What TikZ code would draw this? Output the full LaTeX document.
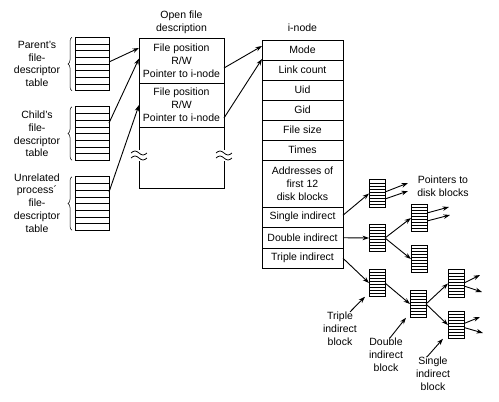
\documentclass[tikz,border=0pt]{standalone}
\usepackage{fontspec}
\setmainfont{Liberation Sans}
\usetikzlibrary{arrows.meta,positioning,calc}
\usetikzlibrary{decorations.pathreplacing}
\tikzset{rows/.style={path picture={%
  \foreach \k in {1,...,#1}
    \draw[line width=0.6pt] ($(path picture bounding box.north west)!\k/#1!(path picture bounding box.south west)$)
      -- ($(path picture bounding box.north east)!\k/#1!(path picture bounding box.south east)$);}}}
\newcommand\cutmark[1]{%
  \draw[line width=0.8pt] ([shift={(-8,-2.5)}]#1) sin ++(4,-2) cos ++(4,2) sin ++(4,2) cos ++(4,-2);
  \draw[line width=0.8pt] ([shift={(-8,2.5)}]#1) sin ++(4,-2) cos ++(4,2) sin ++(4,2) cos ++(4,-2);}

\begin{document}
\begin{tikzpicture}[x=1pt,y=-1pt,line width=0.9pt,>={Stealth[length=6.5pt,width=4.5pt]},
    font=\fontsize{10.5}{12.8}\selectfont]
    \tikzstyle{txt}=[align=center, inner sep=0pt]
    \tikzstyle{field}=[draw, align=center, minimum width=81pt, minimum height=20pt, inner sep=0pt, outer sep=0pt]
    \tikzstyle{ofd}=[draw, align=center, minimum width=85pt, inner sep=0pt, outer sep=0pt]
    \tikzstyle{fdtab}=[draw, minimum width=34pt, minimum height=53.5pt, inner sep=0pt, outer sep=0pt, rows=8]
    \tikzstyle{blk}=[draw, minimum width=16pt, minimum height=27.5pt, inner sep=0pt, outer sep=0pt, rows=9]
    \tikzstyle{ptr}=[->]
    \tikzstyle{brc}=[decorate, decoration={brace, amplitude=4pt}, line width=0.5pt]
    \useasboundingbox (0,0) rectangle (499,402);

    % file-descriptor tables
    \node[txt] (plab) at (37,64)  {Parent's\\file-\\descriptor\\table};
    \node[txt] (clab) at (37,134) {Child's\\file-\\descriptor\\table};
    \node[txt] (ulab) at (37,203) {Unrelated\\process´\\file-\\descriptor\\table};
    \node[fdtab] (ptab) at (92,64)    {};
    \node[fdtab] (ctab) at (92,133.5) {};
    \node[fdtab] (utab) at (92,203.5) {};
    \foreach \t in {ptab,ctab,utab}
      \draw[brc] ([xshift=-3pt]\t.south west) -- ([xshift=-3pt]\t.north west);

    % open file description
    \node[txt] (ofdlab) at (181.5,22) {Open file\\description};
    \node[ofd, minimum height=45pt] (ofd1) at (181.5,60.5) {File position\\R/W\\Pointer to i-node};
    \node[ofd, minimum height=44pt] (ofd2) at (181.5,105)  {File position\\R/W\\Pointer to i-node};
    \node[ofd, draw=none, minimum height=61pt] (ofd3) at (181.5,157.5) {};
    \coordinate (cutL) at ([yshift=2pt]ofd3.west);
    \coordinate (cutR) at ([yshift=2pt]ofd3.east);
    \draw (ofd3.north west) -- ([yshift=5.5pt]cutL) ([yshift=-5.5pt]cutL) -- (ofd3.south west)
      -- (ofd3.south east) -- ([yshift=-5.5pt]cutR) ([yshift=5.5pt]cutR) -- (ofd3.north east);
    \cutmark{cutL}
    \cutmark{cutR}

    % i-node
    \node[txt] (inlab) at (302.5,28) {i-node};
    \node[field] (mode) at (302.5,50) {Mode};
    \node[field, below=0pt of mode]  (link)  {Link count};
    \node[field, below=0pt of link]  (uid)   {Uid};
    \node[field, below=0pt of uid]   (gid)   {Gid};
    \node[field, below=0pt of gid]   (fsize) {File size};
    \node[field, below=0pt of fsize] (times) {Times};
    \node[field, below=0pt of times, minimum height=47pt] (addr) {Addresses of\\first 12\\disk blocks};
    \node[field, below=0pt of addr, minimum height=20.5pt] (sgl) {Single indirect};
    \node[field, below=0pt of sgl, minimum height=20.5pt]  (dbl) {Double indirect};
    \node[field, below=0pt of dbl, minimum height=20.5pt]  (tpl) {Triple indirect};

    % indirect blocks
    \node[blk] (s1)  at (377,193.5) {};
    \node[blk] (d1)  at (377,238)   {};
    \node[blk] (d1a) at (419,218)   {};
    \node[blk] (d1b) at (419,259)   {};
    \node[blk] (t1)  at (377,283)   {};
    \node[blk] (t1d) at (418,304)   {};
    \node[blk] (t1a) at (456,283.5) {};
    \node[blk] (t1b) at (456,325)   {};
    \node[txt] (ptrlab) at (443,186) {Pointers to\\disk blocks};
    \node[txt] (tlab) at (340,329) {Triple\\indirect\\block};
    \node[txt] (dlab) at (386,355) {Double\\indirect\\block};
    \node[txt] (slab) at (433,374) {Single\\indirect\\block};
    \coordinate (s1o1) at (408,183);
    \coordinate (s1o2) at (408,191);
    \coordinate (d1o1) at (449,207);
    \coordinate (d1o2) at (450,215);
    \coordinate (t1o1) at (480,275);
    \coordinate (t1o2) at (482,292);
    \coordinate (t1o3) at (480,317);
    \coordinate (t1o4) at (483,333);

    \path[ptr]
     ([yshift=2pt]ptab.east)    edge ([yshift=12.5pt]ofd1.west)
     ([yshift=10.5pt]ctab.east) edge ([yshift=2pt]ofd1.west)
     ([yshift=11.5pt]utab.east) edge (ofd2.west)
     ([yshift=-7.5pt]ofd1.east) edge ([yshift=4pt]mode.west)
     ([yshift=-13pt]ofd2.east)  edge ([yshift=1pt]mode.south west)
     ([yshift=2pt]sgl.east) edge (s1.west)
     (dbl.east) edge (d1.west)
     (tpl.east) edge (t1.west)
     ([yshift=1.5pt]s1.east)  edge (s1o1)
     ([yshift=-5.5pt]s1.east) edge (s1o2)
     (d1.east) edge (d1a.west)
     (d1.east) edge (d1b.west)
     ([yshift=5pt]d1a.east)  edge (d1o1)
     ([yshift=-3pt]d1a.east) edge (d1o2)
     (t1.east)  edge (t1d.west)
     (t1d.east) edge (t1a.west)
     (t1d.east) edge (t1b.west)
     ([yshift=0.5pt]t1a.east)  edge (t1o1)
     ([yshift=-2.5pt]t1a.east) edge (t1o2)
     ([yshift=1.5pt]t1b.east)  edge (t1o3)
     ([yshift=-2.5pt]t1b.east) edge (t1o4)
     ([xshift=10pt]tlab.north) edge ([xshift=-4pt]t1.south west)
     ([xshift=4pt]dlab.north)  edge ([xshift=-4pt]t1d.south west)
     ([xshift=-6pt]slab.north) edge ([xshift=-5pt]t1b.south west)
     ;
\end{tikzpicture}
\end{document}
